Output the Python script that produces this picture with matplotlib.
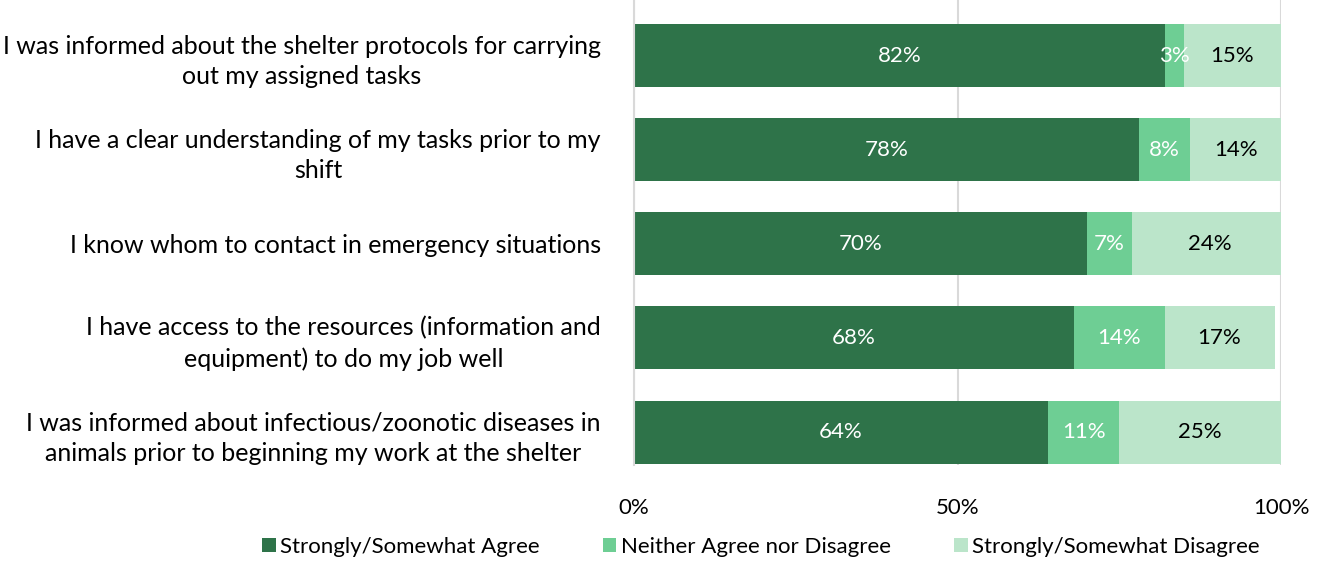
import matplotlib
matplotlib.use("Agg")
import matplotlib.pyplot as plt

plt.rcParams['font.family'] = ['Lato', 'DejaVu Sans']

# survey statements (top to bottom)
statements = [
    "I was informed about the shelter protocols for carrying\nout my assigned tasks",
    "I have a clear understanding of my tasks prior to my\nshift",
    "I know whom to contact in emergency situations",
    "I have access to the resources (information and\nequipment) to do my job well",
    "I was informed about infectious/zoonotic diseases in\nanimals prior to beginning my work at the shelter",
]
agree = [82, 78, 70, 68, 64]
neutral = [3, 8, 7, 14, 11]
disagree = [15, 14, 24, 17, 25]

series_names = ["Strongly/Somewhat Agree", "Neither Agree nor Disagree", "Strongly/Somewhat Disagree"]
colors = ["#2E7349", "#6ECE94", "#BBE5CA"]
label_colors = ["white", "white", "black"]

fig = plt.figure(figsize=(13.24, 5.62), dpi=100)
ax = fig.add_axes([634 / 1324, 1 - 465 / 562, (1281 - 634) / 1324, 465 / 562])

ypos = list(range(len(statements)))
left = [0] * len(statements)
for vals, name, col, lc in zip([agree, neutral, disagree], series_names, colors, label_colors):
    bars = ax.barh(ypos, vals, left=left, height=0.67, color=col, label=name, zorder=2)
    for b, v in zip(bars, vals):
        ax.text(b.get_x() + b.get_width() / 2, b.get_y() + b.get_height() / 2, f"{v}%",
                ha='center', va='center', color=lc, fontsize=16, zorder=3)
    left = [l + v for l, v in zip(left, vals)]

ax.set_xlim(0, 100)
ax.set_ylim(4.35, -0.59)
ax.set_xticks([0, 50, 100])
ax.set_xticklabels(["0%", "50%", "100%"], fontsize=16)
ax.set_yticks(ypos)
ax.set_yticklabels(statements, fontsize=18, multialignment='center', linespacing=1.4)
ax.tick_params(axis='y', length=0, pad=24)
ax.tick_params(axis='x', length=0, pad=24)
ax.grid(axis='x', color='#D9D9D9', linewidth=1.5, zorder=0)
ax.set_axisbelow(True)
for s in ['top', 'right', 'bottom']:
    ax.spines[s].set_visible(False)
ax.spines['left'].set_color('#D9D9D9')
ax.spines['left'].set_linewidth(1.5)

fig.legend(loc='center', bbox_to_anchor=(761 / 1324, 1 - 547 / 562), ncol=3, frameon=False,
           fontsize=16, handlelength=0.6, handleheight=0.6, handletextpad=0.2, columnspacing=2.85)

fig.savefig("out.png", dpi=100)
